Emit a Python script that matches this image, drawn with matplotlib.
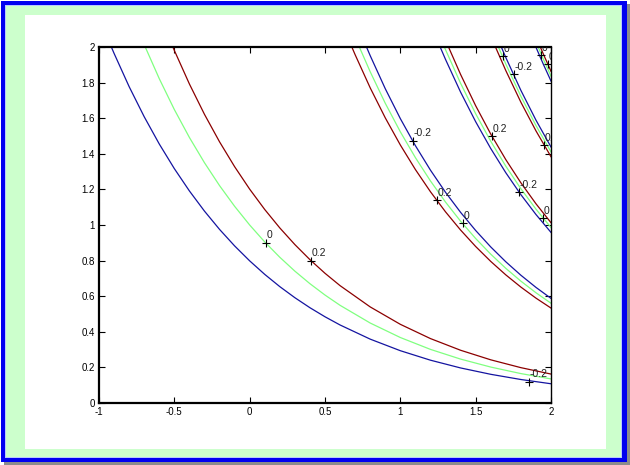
import matplotlib
matplotlib.use("Agg")
import matplotlib.pyplot as plt
from matplotlib.patches import Rectangle
from matplotlib.transforms import offset_copy

plt.rcParams['font.family'] = ['Liberation Sans', 'DejaVu Sans']

# ---------------- data ----------------
levels = [-0.2, 0.0, 0.2]
level_colors = ['#1414A0', '#80FF80', '#8B0000']

# contour band 0
b0_neg_x = [-0.918, -0.9, -0.8, -0.7, -0.6, -0.5, -0.4, -0.3, -0.2, -0.1, 0.0, 0.1, 0.2, 0.3, 0.4, 0.5, 0.6,
            0.8, 1.0, 1.2, 1.4, 1.6, 1.8, 2.0]
b0_neg_y = [2.0, 1.9642, 1.7773, 1.6082, 1.4551, 1.3167, 1.1914, 1.0780, 0.9754, 0.8826, 0.7986, 0.7226, 0.6538,
            0.5916, 0.5353, 0.4844, 0.4383, 0.3588, 0.2938, 0.2405, 0.1969, 0.1612, 0.1320, 0.1081]
b0_zero_x = [-0.693, -0.6, -0.5, -0.4, -0.3, -0.2, -0.1, 0.0, 0.1, 0.2, 0.3, 0.4, 0.5, 0.6,
             0.8, 1.0, 1.2, 1.4, 1.6, 1.8, 2.0]
b0_zero_y = [2.0, 1.8221, 1.6487, 1.4918, 1.3499, 1.2214, 1.1052, 1.0, 0.9048, 0.8187, 0.7408, 0.6703, 0.6065,
             0.5488, 0.4493, 0.3679, 0.3012, 0.2466, 0.2019, 0.1653, 0.1353]
b0_pos_x = [-0.5097, -0.5, -0.4, -0.3, -0.2, -0.1, 0.0, 0.1, 0.2, 0.3, 0.4, 0.5, 0.6,
            0.8, 1.0, 1.2, 1.4, 1.6, 1.8, 2.0]
b0_pos_y = [2.0, 1.9808, 1.7923, 1.6217, 1.4674, 1.3278, 1.2014, 1.0871, 0.9836, 0.8900, 0.8053, 0.7287, 0.6593,
            0.5398, 0.4420, 0.3619, 0.2963, 0.2426, 0.1986, 0.1626]

# contour band 1
b1_pos_x = [0.6781, 0.7, 0.8, 0.9, 1.0, 1.1, 1.2, 1.3, 1.4, 1.5, 1.6, 1.7, 1.8, 1.9, 2.0]
b1_pos_y = [2.0, 1.9566, 1.7705, 1.6020, 1.4495, 1.3116, 1.1868, 1.0738, 0.9716, 0.8792, 0.7955, 0.7198, 0.6513, 0.5893, 0.5333]
b1_zero_x = [0.7279, 0.8, 0.9, 1.0, 1.1, 1.2, 1.3, 1.4, 1.5, 1.6, 1.7, 1.8, 1.9, 2.0]
b1_zero_y = [2.0, 1.8609, 1.6839, 1.5236, 1.3786, 1.2474, 1.1287, 1.0213, 0.9241, 0.8362, 0.7566, 0.6846, 0.6195, 0.5605]
b1_neg_x = [0.7754, 0.8, 0.9, 1.0, 1.1, 1.2, 1.3, 1.4, 1.5, 1.6, 1.7, 1.8, 1.9, 2.0]
b1_neg_y = [2.0, 1.9514, 1.7657, 1.5977, 1.4457, 1.3081, 1.1836, 1.0710, 0.9691, 0.8768, 0.7934, 0.7179, 0.6496, 0.5878]

# contour band 2
b2_neg_x = [1.2644, 1.3, 1.4, 1.5, 1.6, 1.7, 1.8, 1.9, 2.0]
b2_neg_y = [2.0, 1.9300, 1.7464, 1.5802, 1.4298, 1.2937, 1.1706, 1.0592, 0.9584]
b2_zero_x = [1.2924, 1.3, 1.4, 1.5, 1.6, 1.7, 1.8, 1.9, 2.0]
b2_zero_y = [2.0, 1.9849, 1.7960, 1.6251, 1.4705, 1.3305, 1.2039, 1.0893, 0.9857]
b2_pos_x = [1.3197, 1.4, 1.5, 1.6, 1.7, 1.8, 1.9, 2.0]
b2_pos_y = [2.0, 1.8457, 1.6700, 1.5111, 1.3673, 1.2372, 1.1195, 1.0129]

# contour band 3
b3_pos_x = [1.6315, 1.7, 1.8, 1.9, 2.0]
b3_pos_y = [2.0, 1.8677, 1.6899, 1.5291, 1.3836]
b3_zero_x = [1.6510, 1.7, 1.8, 1.9, 2.0]
b3_zero_y = [2.0, 1.9044, 1.7232, 1.5592, 1.4108]
b3_neg_x = [1.6702, 1.7, 1.8, 1.9, 2.0]
b3_neg_y = [2.0, 1.9412, 1.7565, 1.5894, 1.4381]

# contour band 4 (top-right corner)
b4_neg_x = [1.8995, 1.95, 2.0]
b4_neg_y = [2.0, 1.9015, 1.8088]
b4_zero_x = [1.9144, 1.95, 2.0]
b4_zero_y = [2.0, 1.9302, 1.8360]
b4_pos_x = [1.9292, 1.95, 2.0]
b4_pos_y = [2.0, 1.9588, 1.8633]

curves = [
    (b0_neg_x, b0_neg_y, 0), (b0_zero_x, b0_zero_y, 1), (b0_pos_x, b0_pos_y, 2),
    (b1_pos_x, b1_pos_y, 2), (b1_zero_x, b1_zero_y, 1), (b1_neg_x, b1_neg_y, 0),
    (b2_neg_x, b2_neg_y, 0), (b2_zero_x, b2_zero_y, 1), (b2_pos_x, b2_pos_y, 2),
    (b3_pos_x, b3_pos_y, 2), (b3_zero_x, b3_zero_y, 1), (b3_neg_x, b3_neg_y, 0),
    (b4_neg_x, b4_neg_y, 0), (b4_zero_x, b4_zero_y, 1), (b4_pos_x, b4_pos_y, 2),
]

# contour labels ('+' marks)
label_x = [0.106, 0.405, 1.082, 1.241, 1.414, 1.606, 1.785, 1.945, 1.679, 1.752, 1.951, 1.931, 1.978, 1.852]
label_y = [0.899, 0.798, 1.472, 1.140, 1.011, 1.500, 1.185, 1.039, 1.949, 1.848, 1.449, 1.955, 1.904, 0.118]
label_txt = ['0', '0.2', '-0.2', '0.2', '0', '0.2', '-0.2', '0', '0', '-0.2', '0.2', '0', '0.2', '-0.2']

x_ticks = [-1, -0.5, 0, 0.5, 1, 1.5, 2]
x_ticklabels = ['-1', '-0.5', '0', '0.5', '1', '1.5', '2']
y_ticks = [0, 0.2, 0.4, 0.6, 0.8, 1.0, 1.2, 1.4, 1.6, 1.8, 2.0]
y_ticklabels = ['0', '0.2', '0.4', '0.6', '0.8', '1', '1.2', '1.4', '1.6', '1.8', '2']

# ---------------- figure ----------------
W, H = 630, 465
fig = plt.figure(figsize=(W / 100, H / 100), dpi=100)
fig.patch.set_facecolor('white')


def frame_rect(x0, y0, x1, y1, color):
    # pixel box given with top-left origin
    fig.patches.append(Rectangle((x0 / W, 1 - y1 / H), (x1 - x0) / W, (y1 - y0) / H,
                                 transform=fig.transFigure, facecolor=color,
                                 edgecolor='none', zorder=-10))


frame_rect(4, 4, 630, 465, '#8C8C8C')
frame_rect(1, 1, 627, 462, '#0000F0')
frame_rect(5, 5, 622, 458, '#B8C8FF')
frame_rect(6, 6, 621, 457, '#CCFFCC')
frame_rect(25, 15, 606, 449, '#FFFFFF')

ax = fig.add_axes([99 / W, 1 - 403 / H, 452 / W, 356 / H])
ax.set_facecolor('white')

for xs, ys, li in curves:
    ax.plot(xs, ys, color=level_colors[li], lw=0.9, solid_joinstyle='round')

ax.plot(label_x, label_y, linestyle='none', marker='+', color='black',
        markersize=5.5, markeredgewidth=0.8, zorder=5)
trans = offset_copy(ax.transData, fig=fig, x=1, y=2.5, units='dots')
for lx, ly, lt in zip(label_x, label_y, label_txt):
    ax.text(lx, ly, lt, transform=trans, ha='left', va='bottom',
            fontsize=7.5, color='#202020', clip_on=True, zorder=6)

ax.set_xlim(-1, 2)
ax.set_ylim(0, 2)
ax.set_xticks(x_ticks)
ax.set_xticklabels(x_ticklabels)
ax.set_yticks(y_ticks)
ax.set_yticklabels(y_ticklabels)
ax.tick_params(direction='in', length=4, width=0.8, labelsize=7, pad=3,
               top=True, right=True, colors='black')
for side, sp in ax.spines.items():
    sp.set_color('black')
    sp.set_linewidth(1.6 if side in ('left', 'bottom', 'top') else 1.0)

fig.savefig('out.png', dpi=100, facecolor=fig.get_facecolor())
